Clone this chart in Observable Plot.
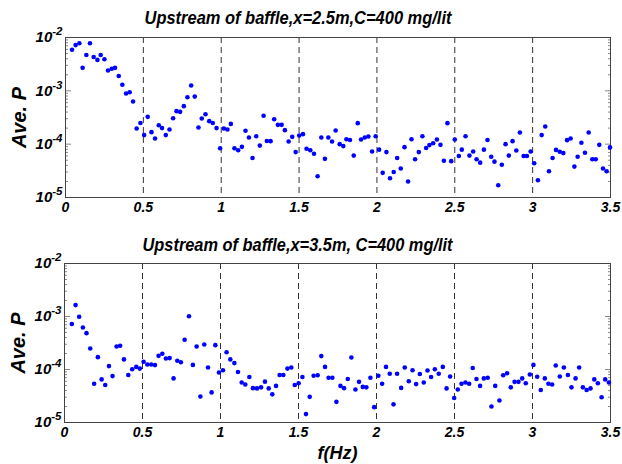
<!DOCTYPE html>
<html><head><meta charset="utf-8">
<script src="https://cdn.jsdelivr.net/npm/d3@7"></script>
<script src="https://cdn.jsdelivr.net/npm/@observablehq/plot@0.6"></script>
<style>
body{margin:0;background:#fff;}
#chart{width:622px;height:464px;}
#chart svg{display:block;}
</style></head><body><div id="chart"></div>
<script>
const f1 = [0.042,0.065,0.089,0.110,0.134,0.157,0.181,0.205,0.226,0.250,0.273,0.297,0.318,0.342,0.365,0.389,0.412,0.434,0.457,0.481,0.505,0.528,0.552,0.575,0.599,0.620,0.644,0.668,0.691,0.713,0.736,0.760,0.783,0.807,0.830,0.854,0.875,0.899,0.923,0.946,0.970,0.993,1.017,1.040,1.062,1.085,1.109,1.133,1.156,1.178,1.201,1.225,1.248,1.272,1.293,1.317,1.340,1.364,1.388,1.409,1.433,1.456,1.478,1.501,1.525,1.548,1.572,1.596,1.619,1.643,1.666,1.688,1.712,1.735,1.761,1.784,1.804,1.827,1.851,1.877,1.898,1.922,1.945,1.969,1.992,2.014,2.037,2.061,2.084,2.108,2.130,2.153,2.177,2.200,2.222,2.245,2.269,2.292,2.316,2.337,2.361,2.385,2.408,2.430,2.453,2.477,2.500,2.526,2.545,2.569,2.594,2.618,2.640,2.663,2.687,2.710,2.734,2.755,2.779,2.802,2.826,2.847,2.871,2.895,2.918,2.942,2.963,2.987,3.010,3.034,3.058,3.081,3.105,3.128,3.150,3.174,3.197,3.221,3.244,3.268,3.289,3.313,3.336,3.360,3.383,3.405,3.428,3.452,3.475,3.497];
const p1 = [5.9e-3,7.2e-3,7.8e-3,2.7e-3,4.7e-3,7.8e-3,4.3e-3,3.8e-3,4.7e-3,3.9e-3,2.4e-3,2.6e-3,2.7e-3,1.9e-3,1.3e-3,8.9e-4,9.4e-4,6.3e-4,1.97e-4,2.5e-4,1.48e-4,3.25e-4,1.68e-4,1.28e-4,2.27e-4,2.0e-4,1.48e-4,1.88e-4,3.07e-4,4.16e-4,4.04e-4,5.16e-4,7.6e-4,1.26e-3,7.8e-4,2.05e-4,3.03e-4,3.65e-4,2.7e-4,2.5e-4,2.0e-4,8.4e-5,1.97e-4,1.88e-4,2.4e-4,8.4e-5,7.7e-5,8.9e-5,1.78e-4,1.33e-4,5.5e-5,1.41e-4,9.4e-5,3.4e-4,1.15e-4,1.14e-4,2.94e-4,2.3e-4,2.3e-4,1.83e-4,1.12e-4,1.37e-4,7.1e-5,1.45e-4,1.54e-4,8.2e-5,7.7e-5,6.6e-5,2.5e-5,1.33e-4,5.3e-5,1.33e-4,1.12e-4,1.8e-4,1.0e-4,9.2e-5,1.24e-4,1.2e-4,6.1e-5,2.48e-4,1.22e-4,1.33e-4,1.39e-4,7.3e-5,1.41e-4,7.9e-5,2.9e-5,7.1e-5,2.3e-5,3.0e-5,5.5e-5,3.5e-5,8.8e-5,2.0e-5,1.24e-4,5.2e-5,7.1e-5,1.41e-4,8.5e-5,9.6e-5,1.04e-4,1.22e-4,9.7e-5,4.9e-5,2.48e-4,4.8e-5,1.22e-4,6.0e-5,7.9e-5,1.41e-4,6.1e-5,7.3e-5,5.2e-5,4.5e-5,7.9e-5,1.2e-4,5.8e-5,4.7e-5,1.7e-5,4.1e-5,1.0e-4,6.1e-5,1.14e-4,7.6e-5,1.66e-4,6.0e-5,6.0e-5,7.3e-5,4.4e-5,2.1e-5,1.48e-4,2.14e-4,3.1e-5,5.5e-5,7.8e-5,7.2e-5,6.8e-5,1.19e-4,1.28e-4,3.8e-5,5.8e-5,1.06e-4,6.9e-5,1.66e-4,5.2e-5,5.2e-5,9.7e-5,3.5e-5,3.1e-5,8.7e-5];
const f2 = [0.047,0.071,0.094,0.118,0.141,0.165,0.190,0.214,0.238,0.261,0.285,0.308,0.334,0.357,0.381,0.409,0.434,0.460,0.483,0.507,0.531,0.556,0.580,0.603,0.627,0.650,0.674,0.699,0.723,0.746,0.770,0.798,0.823,0.847,0.871,0.896,0.920,0.943,0.967,0.990,1.016,1.039,1.063,1.089,1.112,1.136,1.159,1.185,1.208,1.234,1.260,1.285,1.309,1.332,1.356,1.379,1.403,1.429,1.454,1.476,1.501,1.525,1.548,1.572,1.597,1.623,1.646,1.670,1.693,1.717,1.743,1.769,1.792,1.816,1.839,1.865,1.888,1.912,1.935,1.961,1.985,2.012,2.036,2.061,2.085,2.109,2.132,2.158,2.181,2.207,2.231,2.254,2.278,2.303,2.327,2.350,2.374,2.399,2.425,2.449,2.472,2.498,2.521,2.545,2.570,2.594,2.617,2.641,2.664,2.688,2.713,2.737,2.761,2.788,2.812,2.837,2.861,2.885,2.910,2.934,2.957,2.983,3.006,3.030,3.053,3.079,3.102,3.126,3.149,3.175,3.201,3.227,3.250,3.276,3.299,3.323,3.347,3.372,3.396,3.419,3.443,3.466,3.490];
const p2 = [7.2e-4,1.64e-3,9.9e-4,6.2e-4,4.85e-4,2.49e-4,5.4e-5,1.71e-4,6.5e-5,5.1e-5,1.16e-4,7.5e-5,2.72e-4,2.8e-4,1.55e-4,7.9e-5,1.01e-4,1.12e-4,1.04e-4,1.4e-4,1.24e-4,1.24e-4,1.21e-4,1.81e-4,1.98e-4,1.61e-4,1.64e-4,6.8e-5,1.46e-4,1.37e-4,3.63e-4,1.01e-3,1.22e-4,2.72e-4,3.1e-5,2.96e-4,1.09e-4,3.7e-5,2.88e-4,8.8e-5,9.7e-5,2.12e-4,1.55e-4,1.32e-4,9.0e-5,5.7e-5,5.2e-5,7.2e-5,4.45e-5,4.4e-5,4.6e-5,5.9e-5,4.4e-5,3.4e-5,4.9e-5,7.9e-5,7.9e-5,1.04e-4,1.09e-4,5.1e-5,5.5e-5,7.2e-5,1.44e-5,3.05e-5,7.6e-5,7.8e-5,1.79e-4,1.12e-4,7.0e-5,7.0e-5,2.45e-5,4.9e-5,4.45e-5,6.6e-5,1.68e-4,4.2e-5,5.85e-5,4.7e-5,4.6e-5,7.0e-5,1.95e-5,7.6e-5,5.4e-5,1.12e-4,8.3e-5,2.2e-5,8.3e-5,4.5e-5,1.09e-4,6.0e-5,9.7e-5,5.3e-5,8.2e-5,5.7e-5,9.6e-5,7.2e-5,1.01e-4,8.3e-5,1.12e-4,4.4e-5,7.4e-5,2.9e-5,4.2e-5,5.4e-5,5.7e-5,5.4e-5,1.07e-4,6.6e-5,4.9e-5,6.8e-5,7.0e-5,2.0e-5,4.9e-5,2.6e-5,7.8e-5,8.5e-5,4.6e-5,5.85e-5,5.85e-5,6.8e-5,5.5e-5,8.05e-5,1.22e-4,7.3e-5,4.1e-5,6.8e-5,5.4e-5,5.2e-5,1.19e-4,7.4e-5,1.09e-4,7.9e-5,4.6e-5,6.8e-5,1.09e-4,4.6e-5,4.1e-5,4.4e-5,6.5e-5,5.5e-5,3.0e-5,6.5e-5,5.7e-5];

const titles = ["Upstream of baffle,x=2.5m,C=400 mg/lit", "Upstream of baffle,x=3.5m, C=400 mg/lit"];
const xTicks = [0, 0.5, 1, 1.5, 2, 2.5, 3, 3.5];
const gridX = [0.5, 1, 1.5, 2, 2.5, 3];
const yMajor = [1e-5, 1e-4, 1e-3, 1e-2];
const yMinor = [2e-5,3e-5,4e-5,5e-5,6e-5,7e-5,8e-5,9e-5,2e-4,3e-4,4e-4,5e-4,6e-4,7e-4,8e-4,9e-4,2e-3,3e-3,4e-3,5e-3,6e-3,7e-3,8e-3,9e-3];
const yLabel = "Ave. P";
const xLabel = "f(Hz)";

function panel(f, p, title, o) {
  const data = f.map((x, i) => ({f: x, p: p[i]}));
  const marks = [
    Plot.ruleX(gridX, {stroke: "#333", strokeDasharray: "6,4", strokeWidth: 1}),
    Plot.axisY({anchor: "left", ticks: yMinor, tickSize: -3, tickFormat: () => "", stroke: "#888", label: null}),
    Plot.axisY({anchor: "right", ticks: yMinor, tickSize: -3, tickFormat: () => "", stroke: "#888", label: null}),
    Plot.axisY({anchor: "left", ticks: yMajor, tickSize: -6, tickFormat: () => "", stroke: "#888", label: null}),
    Plot.axisY({anchor: "right", ticks: yMajor, tickSize: -6, tickFormat: () => "", stroke: "#888", label: null}),
    Plot.axisY({anchor: "left", ticks: yMajor, tickSize: 0, tickPadding: 3, tickFormat: d => "10^" + Math.round(Math.log10(d)), label: null, fontSize: 15}),
    Plot.axisX({ticks: xTicks, tickSize: 0, tickPadding: 5, tickFormat: d => String(d), label: null, fontSize: 14}),
    Plot.frame({stroke: "#444"}),
    Plot.dot(data, {x: "f", y: "p", r: 2.3, fill: "#0000ff"}),
    Plot.text([title], {frameAnchor: "top", dx: -40, dy: o.tdy, lineAnchor: "middle", textAnchor: "middle", fontSize: 18.5, fontFamily: "Liberation Sans Narrow, Liberation Sans, Arial, sans-serif"}),
    Plot.text([yLabel], {frameAnchor: "left", rotate: -90, dx: -46, lineAnchor: "middle", textAnchor: "middle", fontSize: 20})
  ];
  if (o.xlab) marks.push(Plot.text([xLabel], {frameAnchor: "bottom", dy: 31, lineAnchor: "middle", textAnchor: "middle", fontSize: 18}));
  return Plot.plot({
    width: 622, height: o.height, marginLeft: o.ml, marginRight: 12, marginTop: o.mt, marginBottom: o.mb,
    style: {fontFamily: "Liberation Sans, Arial, sans-serif", fontWeight: "bold", fontStyle: "italic", fontSize: "14px", color: "#000", background: "#fff"},
    x: {domain: [0, 3.5], label: null},
    y: {type: "log", domain: [1e-5, 1e-2], label: null},
    marks
  });
}

const chart = document.getElementById("chart");
const top1 = panel(f1, p1, titles[0], {height: 232, ml: 65, mt: 37, mb: 35, tdy: -19, xlab: false});
const bot1 = panel(f2, p2, titles[1], {height: 232, ml: 64, mt: 31, mb: 42, tdy: -18, xlab: true});
chart.appendChild(top1);
chart.appendChild(bot1);

const titleWidths = [307, 310];
for (const svg of [top1, bot1]) {
  d3.select(svg).selectAll("text").each(function() {
    const t = this.textContent;
    const m = /^10\^(-?\d+)$/.exec(t);
    if (m) {
      this.textContent = "10";
      const ts = document.createElementNS("http://www.w3.org/2000/svg", "tspan");
      ts.setAttribute("dy", "-7");
      ts.setAttribute("font-size", "11.5");
      ts.textContent = m[1];
      this.appendChild(ts);
    }
    const ti = titles.indexOf(t);
    if (ti >= 0) {
      this.setAttribute("textLength", titleWidths[ti]);
      this.setAttribute("lengthAdjust", "spacingAndGlyphs");
    }
  });
}
</script></body></html>
